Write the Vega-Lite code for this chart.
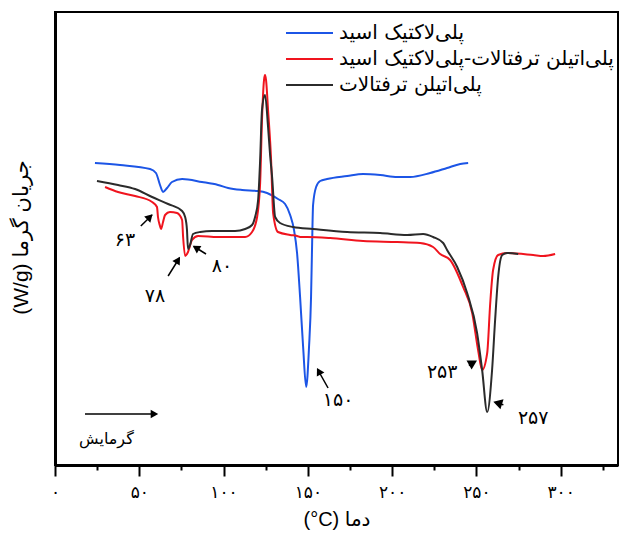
{
  "$schema": "https://vega.github.io/schema/vega-lite/v6.json",
  "autosize": {"type": "none"},
  "width": 563,
  "height": 453,
  "padding": {"left": 55, "top": 12, "right": 1, "bottom": 78},
  "background": "white",
  "config": {
    "view": {"stroke": "#000", "strokeWidth": 2},
    "font": "Liberation Sans, DejaVu Sans"
  },
  "datasets": {
    "curves": [
      {"s": "PLA", "x": 23.7, "hf": 302}, {"s": "PLA", "x": 38.6, "hf": 300}, {"s": "PLA", "x": 56.4, "hf": 296}, {"s": "PLA", "x": 59.9, "hf": 292},
      {"s": "PLA", "x": 62.3, "hf": 280}, {"s": "PLA", "x": 64.1, "hf": 273}, {"s": "PLA", "x": 66.5, "hf": 277}, {"s": "PLA", "x": 69.4, "hf": 283},
      {"s": "PLA", "x": 75.4, "hf": 286}, {"s": "PLA", "x": 87.2, "hf": 283}, {"s": "PLA", "x": 96.7, "hf": 280}, {"s": "PLA", "x": 102.7, "hf": 277},
      {"s": "PLA", "x": 111.0, "hf": 275}, {"s": "PLA", "x": 120.5, "hf": 274}, {"s": "PLA", "x": 125.8, "hf": 272}, {"s": "PLA", "x": 132.3, "hf": 266},
      {"s": "PLA", "x": 136.5, "hf": 261}, {"s": "PLA", "x": 139.5, "hf": 250}, {"s": "PLA", "x": 141.8, "hf": 235}, {"s": "PLA", "x": 143.6, "hf": 212},
      {"s": "PLA", "x": 145.4, "hf": 168}, {"s": "PLA", "x": 147.2, "hf": 118}, {"s": "PLA", "x": 149.0, "hf": 78}, {"s": "PLA", "x": 150.7, "hf": 118},
      {"s": "PLA", "x": 151.9, "hf": 168}, {"s": "PLA", "x": 152.5, "hf": 218}, {"s": "PLA", "x": 153.1, "hf": 260}, {"s": "PLA", "x": 154.9, "hf": 278},
      {"s": "PLA", "x": 157.3, "hf": 284}, {"s": "PLA", "x": 161.4, "hf": 286}, {"s": "PLA", "x": 173.3, "hf": 289}, {"s": "PLA", "x": 182.8, "hf": 291},
      {"s": "PLA", "x": 192.9, "hf": 290}, {"s": "PLA", "x": 203.0, "hf": 288}, {"s": "PLA", "x": 210.7, "hf": 288}, {"s": "PLA", "x": 222.6, "hf": 292},
      {"s": "PLA", "x": 232.6, "hf": 297}, {"s": "PLA", "x": 240.4, "hf": 301}, {"s": "PLA", "x": 245.1, "hf": 302},

      {"s": "PETPLA", "x": 29.7, "hf": 278}, {"s": "PETPLA", "x": 37.4, "hf": 273}, {"s": "PETPLA", "x": 47.5, "hf": 269}, {"s": "PETPLA", "x": 57.6, "hf": 263},
      {"s": "PETPLA", "x": 60.5, "hf": 258}, {"s": "PETPLA", "x": 61.1, "hf": 248}, {"s": "PETPLA", "x": 62.3, "hf": 239}, {"s": "PETPLA", "x": 62.9, "hf": 236},
      {"s": "PETPLA", "x": 64.1, "hf": 243}, {"s": "PETPLA", "x": 65.3, "hf": 250}, {"s": "PETPLA", "x": 68.2, "hf": 253}, {"s": "PETPLA", "x": 72.4, "hf": 252},
      {"s": "PETPLA", "x": 75.4, "hf": 245}, {"s": "PETPLA", "x": 76.0, "hf": 228}, {"s": "PETPLA", "x": 77.2, "hf": 209}, {"s": "PETPLA", "x": 78.9, "hf": 213},
      {"s": "PETPLA", "x": 81.3, "hf": 225}, {"s": "PETPLA", "x": 84.9, "hf": 229}, {"s": "PETPLA", "x": 96.7, "hf": 228}, {"s": "PETPLA", "x": 112.8, "hf": 228},
      {"s": "PETPLA", "x": 116.9, "hf": 233}, {"s": "PETPLA", "x": 119.9, "hf": 248}, {"s": "PETPLA", "x": 121.7, "hf": 282}, {"s": "PETPLA", "x": 122.8, "hf": 345},
      {"s": "PETPLA", "x": 124.0, "hf": 385}, {"s": "PETPLA", "x": 124.6, "hf": 390}, {"s": "PETPLA", "x": 125.2, "hf": 385}, {"s": "PETPLA", "x": 126.4, "hf": 355},
      {"s": "PETPLA", "x": 128.2, "hf": 305}, {"s": "PETPLA", "x": 129.4, "hf": 252}, {"s": "PETPLA", "x": 132.3, "hf": 233}, {"s": "PETPLA", "x": 139.5, "hf": 230},
      {"s": "PETPLA", "x": 143.6, "hf": 229}, {"s": "PETPLA", "x": 145.4, "hf": 228}, {"s": "PETPLA", "x": 149.6, "hf": 228}, {"s": "PETPLA", "x": 163.2, "hf": 227},
      {"s": "PETPLA", "x": 182.8, "hf": 224}, {"s": "PETPLA", "x": 203.0, "hf": 223}, {"s": "PETPLA", "x": 216.6, "hf": 222}, {"s": "PETPLA", "x": 224.3, "hf": 218},
      {"s": "PETPLA", "x": 228.5, "hf": 211}, {"s": "PETPLA", "x": 234.4, "hf": 205}, {"s": "PETPLA", "x": 242.1, "hf": 178}, {"s": "PETPLA", "x": 247.5, "hf": 152},
      {"s": "PETPLA", "x": 251.0, "hf": 115}, {"s": "PETPLA", "x": 253.4, "hf": 95}, {"s": "PETPLA", "x": 256.4, "hf": 112}, {"s": "PETPLA", "x": 258.2, "hf": 162},
      {"s": "PETPLA", "x": 259.9, "hf": 195}, {"s": "PETPLA", "x": 262.9, "hf": 210}, {"s": "PETPLA", "x": 268.2, "hf": 212}, {"s": "PETPLA", "x": 283.7, "hf": 210},
      {"s": "PETPLA", "x": 289.6, "hf": 209}, {"s": "PETPLA", "x": 296.7, "hf": 211},

      {"s": "PET", "x": 24.9, "hf": 284}, {"s": "PET", "x": 37.4, "hf": 280}, {"s": "PET", "x": 47.5, "hf": 276}, {"s": "PET", "x": 57.6, "hf": 268},
      {"s": "PET", "x": 67.1, "hf": 261}, {"s": "PET", "x": 75.4, "hf": 254}, {"s": "PET", "x": 77.2, "hf": 248}, {"s": "PET", "x": 78.3, "hf": 235},
      {"s": "PET", "x": 78.9, "hf": 216}, {"s": "PET", "x": 80.1, "hf": 220}, {"s": "PET", "x": 81.9, "hf": 231}, {"s": "PET", "x": 86.1, "hf": 233},
      {"s": "PET", "x": 93.2, "hf": 234}, {"s": "PET", "x": 106.8, "hf": 234}, {"s": "PET", "x": 112.8, "hf": 236}, {"s": "PET", "x": 116.9, "hf": 240},
      {"s": "PET", "x": 118.7, "hf": 248}, {"s": "PET", "x": 120.5, "hf": 265}, {"s": "PET", "x": 121.7, "hf": 305}, {"s": "PET", "x": 122.8, "hf": 355},
      {"s": "PET", "x": 124.6, "hf": 370}, {"s": "PET", "x": 126.4, "hf": 338}, {"s": "PET", "x": 127.6, "hf": 310}, {"s": "PET", "x": 128.8, "hf": 288},
      {"s": "PET", "x": 130.6, "hf": 248}, {"s": "PET", "x": 133.5, "hf": 242}, {"s": "PET", "x": 141.2, "hf": 238}, {"s": "PET", "x": 153.1, "hf": 236},
      {"s": "PET", "x": 173.3, "hf": 233}, {"s": "PET", "x": 192.9, "hf": 232}, {"s": "PET", "x": 208.9, "hf": 230}, {"s": "PET", "x": 218.4, "hf": 231},
      {"s": "PET", "x": 224.3, "hf": 228}, {"s": "PET", "x": 230.3, "hf": 222}, {"s": "PET", "x": 232.6, "hf": 215}, {"s": "PET", "x": 238.6, "hf": 198},
      {"s": "PET", "x": 244.5, "hf": 172}, {"s": "PET", "x": 250.4, "hf": 132}, {"s": "PET", "x": 253.4, "hf": 95}, {"s": "PET", "x": 256.4, "hf": 53},
      {"s": "PET", "x": 259.3, "hf": 95}, {"s": "PET", "x": 261.1, "hf": 145}, {"s": "PET", "x": 262.9, "hf": 188}, {"s": "PET", "x": 265.3, "hf": 210},
      {"s": "PET", "x": 268.2, "hf": 212}, {"s": "PET", "x": 274.8, "hf": 211}
    ],
    "arrows": [
      {"x": 50.9, "y": 239, "x2": 57.6, "y2": 250, "hx": 56.3, "hy": 248.0, "angle": 315, "sz": 75},
      {"x": 67.1, "y": 189, "x2": 73.8, "y2": 207, "hx": 73.0, "hy": 205.0, "angle": 302, "sz": 75},
      {"x": 89.6, "y": 211, "x2": 82.4, "y2": 218.5, "hx": 83.6, "hy": 217.2, "angle": 212, "sz": 75},
      {"x": 162.0, "y": 77, "x2": 156.0, "y2": 95, "hx": 156.5, "hy": 93.8, "angle": 241, "sz": 75},
      {"x": 245.5, "y": 99.5, "x2": 248.5, "y2": 102, "hx": 248.0, "hy": 102.2, "angle": 331, "sz": 110},
      {"x": 266.0, "y": 60.3, "x2": 263.0, "y2": 61.5, "hx": 262.6, "hy": 62.0, "angle": 197, "sz": 110},
      {"x": 17.8, "y": 51, "x2": 58.5, "y2": 51, "hx": 59.0, "hy": 51, "angle": 0, "sz": 75}
    ],
    "labels": [
      {"x": 41.5, "y": 225, "t": "۶۳", "fs": 19},
      {"x": 59.3, "y": 169, "t": "۷۸", "fs": 19},
      {"x": 99.1, "y": 199, "t": "۸۰", "fs": 19},
      {"x": 168.0, "y": 65, "t": "۱۵۰", "fs": 19},
      {"x": 229.7, "y": 93, "t": "۲۵۳", "fs": 19},
      {"x": 283.7, "y": 47, "t": "۲۵۷", "fs": 19},
      {"x": 30.5, "y": 26, "t": "گرمایش", "fs": 16}
    ]
  },
  "layer": [
    {
      "data": {"name": "curves"},
      "mark": {"type": "line", "strokeWidth": 2, "interpolate": "monotone"},
      "encoding": {
        "x": {
          "field": "x", "type": "quantitative",
          "scale": {"domain": [0, 334], "nice": false, "zero": false},
          "axis": {
            "values": [0, 25, 50, 75, 100, 125, 150, 175, 200, 225, 250, 275, 300, 325],
            "labelExpr": "datum.value == 0 ? '۰' : datum.value == 50 ? '۵۰' : datum.value == 100 ? '۱۰۰' : datum.value == 150 ? '۱۵۰' : datum.value == 200 ? '۲۰۰' : datum.value == 250 ? '۲۵۰' : datum.value == 300 ? '۳۰۰' : ''",
            "grid": false,
            "domainColor": "#000", "domainWidth": 3,
            "tickColor": "#000", "tickWidth": 2,
            "tickSize": {"condition": {"test": "datum.value % 50 == 0", "value": 11}, "value": 5},
            "labelPadding": 8, "labelFontSize": 17, "labelColor": "#000", "labelFont": "DejaVu Sans",
            "labelFlush": false, "labelOverlap": false,
            "title": "(°C) دما", "titleFontSize": 20, "titleFontWeight": "normal", "titleColor": "#000", "titlePadding": 9
          }
        },
        "y": {
          "field": "hf", "type": "quantitative",
          "scale": {"domain": [0, 453], "nice": false, "zero": false},
          "axis": {
            "ticks": false, "labels": false, "grid": false,
            "domainColor": "#000", "domainWidth": 3,
            "title": "(W/g) جریان گرما", "titleFontSize": 21, "titleFontWeight": "normal", "titleColor": "#000", "titlePadding": 24,
            "titleY": 225
          }
        },
        "color": {
          "field": "s", "type": "nominal",
          "scale": {"domain": ["PLA", "PETPLA", "PET"], "range": ["#1c55e6", "#f0141e", "#2b2b2b"]},
          "legend": {
            "orient": "none", "legendX": 230, "legendY": 8,
            "title": null, "padding": 0,
            "symbolType": "stroke", "symbolSize": 2209, "symbolStrokeWidth": 2,
            "clipHeight": 26,
            "labelFontSize": 20, "labelFont": "DejaVu Sans", "labelColor": "#000", "labelLimit": 0, "labelOffset": 5,
            "rowPadding": 0,
            "labelExpr": "datum.value == 'PLA' ? 'پلی‌لاکتیک اسید' : datum.value == 'PETPLA' ? 'پلی‌اتیلن ترفتالات-پلی‌لاکتیک اسید' : 'پلی‌اتیلن ترفتالات'"
          }
        }
      }
    },
    {
      "data": {"name": "arrows"},
      "mark": {"type": "rule", "color": "#000", "strokeWidth": 1.5},
      "encoding": {
        "x": {"field": "x", "type": "quantitative"},
        "y": {"field": "y", "type": "quantitative"},
        "x2": {"field": "x2"},
        "y2": {"field": "y2"}
      }
    },
    {
      "data": {"name": "arrows"},
      "mark": {"type": "point", "shape": "triangle-right", "filled": true, "color": "#000", "opacity": 1},
      "encoding": {
        "x": {"field": "hx", "type": "quantitative"},
        "y": {"field": "hy", "type": "quantitative"},
        "angle": {"field": "angle", "type": "quantitative", "scale": null},
        "size": {"field": "sz", "type": "quantitative", "scale": null}
      }
    },
    {
      "data": {"name": "labels"},
      "mark": {"type": "text", "font": "DejaVu Sans", "color": "#000", "align": "center", "baseline": "middle"},
      "encoding": {
        "x": {"field": "x", "type": "quantitative"},
        "y": {"field": "y", "type": "quantitative"},
        "text": {"field": "t"},
        "size": {"field": "fs", "type": "quantitative", "scale": null}
      }
    }
  ]
}
